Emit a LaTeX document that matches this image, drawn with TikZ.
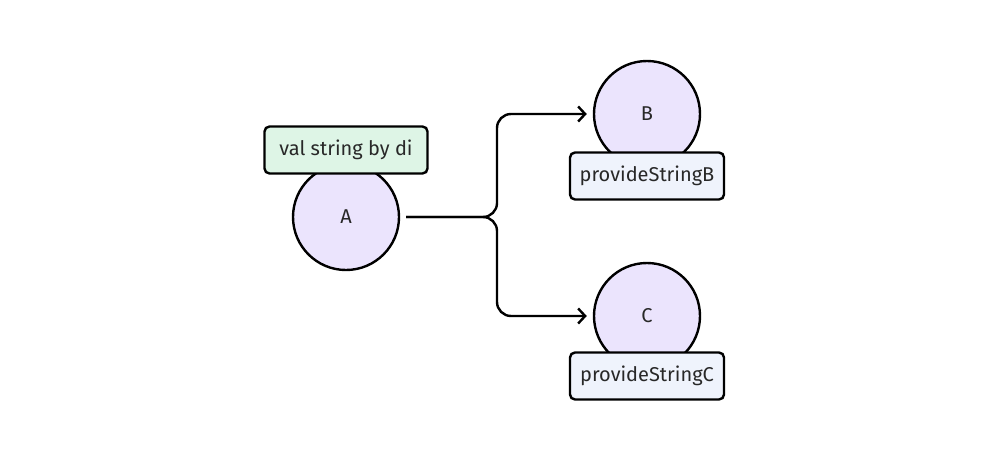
\documentclass[tikz,border=0pt]{standalone}
\usepackage{fontspec}
\setmainfont{Fira Sans}
\usetikzlibrary{arrows.meta}
\definecolor{nodefill}{RGB}{235,228,253}
\definecolor{greenfill}{RGB}{222,245,230}
\definecolor{bluefill}{RGB}{239,243,252}
\definecolor{inktext}{RGB}{40,40,40}
\begin{document}
\begin{tikzpicture}[x=1pt, y=-1pt, line width=2.4pt,
	dot/.style={circle, draw=black, fill=nodefill, minimum size=106pt, inner sep=0pt, text=inktext, font=\fontsize{20}{24}\selectfont},
	tag/.style={rectangle, rounded corners=5pt, draw=black, minimum height=47pt, inner sep=0pt, text=inktext, font=\fontsize{20}{24}\selectfont},
	link/.style={-{Straight Barb[length=7pt, width=15pt]}, rounded corners=14pt, shorten <=6pt, shorten >=6pt}]
	\useasboundingbox (0,0) rectangle (990,463);
	\node[dot] (A) at (346,217) {A};
	\node[dot] (B) at (647,114) {B};
	\node[dot] (C) at (647,316) {C};
	\node[tag, fill=greenfill, minimum width=163pt] (a) at (346,150) {val string by di};
	\node[tag, fill=bluefill, minimum width=154pt] (b) at (647,176) {provideStringB};
	\node[tag, fill=bluefill, minimum width=154pt] (c) at (647,376) {provideStringC};
	\draw[link] (A.east) -- (497,217) |- (B.west);
	\draw[link] (A.east) -- (497,217) |- (C.west);
\end{tikzpicture}
\end{document}
